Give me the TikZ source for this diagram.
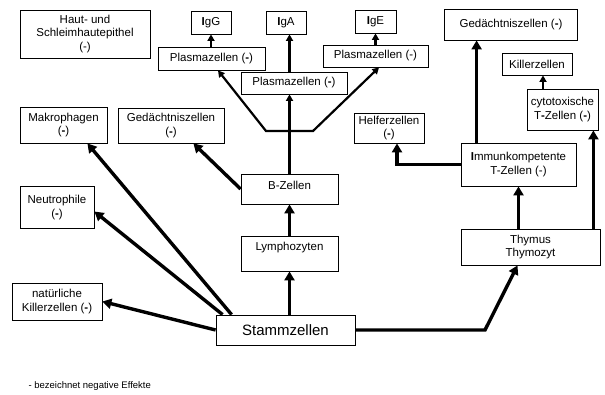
\documentclass[tikz,border=0pt]{standalone}
\usepackage{fontspec}
\setmainfont{Liberation Sans}
\usetikzlibrary{positioning, arrows.meta, calc}

\begin{document}
\begin{tikzpicture}[x=1pt, y=-1pt,
    box/.style={draw, fill=white, line width=0.8pt, align=center, inner sep=2pt, font=\fontsize{11.5}{13.5}\selectfont},
    fat/.style={line width=3.4pt, -{Triangle[length=9pt,width=10pt]}},
    slim/.style={line width=2.2pt, -{Triangle[length=6.5pt,width=7pt]}}]
    \useasboundingbox (0,0) rectangle (605,394);

    % Kasten
    \node[box, minimum width=130pt, minimum height=48pt] (haut) at (85,34) {Haut- und\\Schleimhautepithel\\(-)};
    \node[box, minimum width=40pt, minimum height=23pt] (igg) at (211,22.5) {\textbf{I}gG};
    \node[box, minimum width=40pt, minimum height=23pt] (iga) at (286,22.5) {\textbf{I}gA};
    \node[box, minimum width=41pt, minimum height=23pt] (ige) at (375.5,21.5) {\textbf{I}gE};
    \node[box, minimum width=107pt, minimum height=23pt] (plasmaL) at (211.5,58.5) {Plasmazellen (\textbf{-})};
    \node[box, minimum width=106pt, minimum height=22pt] (plasmaM) at (294,83) {Plasmazellen (\textbf{-})};
    \node[box, minimum width=105pt, minimum height=22pt] (plasmaR) at (375.5,56) {Plasmazellen (-)};
    \node[box, minimum width=133pt, minimum height=31pt] (gedR) at (511,24.5) {Gedächtniszellen (\textbf{-})};
    \node[box, minimum width=70pt, minimum height=22pt] (killer) at (537,64) {Killerzellen};
    \node[box, minimum width=71pt, minimum height=41pt] (cyto) at (562.5,109.5) {cytotoxische\\T\textbf{-}Zellen (\textbf{-})};
    \node[box, minimum width=70pt, minimum height=30pt] (helfer) at (389,128) {Helferzellen\\(\textbf{-})};
    \node[box, minimum width=115pt, minimum height=43pt] (immun) at (518.5,164.5) {\textbf{I}mmunkompetente\\T-Zellen (-)};
    \node[box, minimum width=139pt, minimum height=36pt] (thymus) at (530.5,247) {Thymus\\Thymozyt};
    \node[box, minimum width=87pt, minimum height=36pt] (makro) at (63.5,125) {Makrophagen\\(\textbf{-})};
    \node[box, minimum width=106pt, minimum height=35pt] (gedL) at (171,125.5) {Gedächtniszellen\\(\textbf{-})};
    \node[box, minimum width=74pt, minimum height=42pt] (neutro) at (57,207.5) {Neutrophile\\(\textbf{-})};
    \node[box, minimum width=97pt, minimum height=30pt, text depth=8pt] (bzellen) at (289.5,189) {B-Zellen};
    \node[box, minimum width=97pt, minimum height=35pt, text depth=15pt] (lympho) at (289.5,253.5) {Lymphozyten};
    \node[box, minimum width=90pt, minimum height=37pt] (nkiller) at (57,301.5) {natürliche\\Killerzellen (\textbf{-})};
    \node[box, minimum width=139pt, minimum height=30pt, font=\fontsize{15}{17}\selectfont] (stamm) at (285.5,330) {Stammzellen};
    \node[anchor=west, font=\fontsize{9.5}{11}\selectfont] (legende) at (25,386) {- bezeichnet negative Effekte};

    % Pfeile von den Stammzellen
    \draw[fat] (stamm.west) -- (nkiller.east);
    \draw[fat] ([xshift=7pt]stamm.north west) -- ([yshift=-4pt]neutro.east);
    \draw[fat] ([xshift=16pt]stamm.north west) -- ([xshift=-20pt]makro.south east);
    \draw[fat] (lympho.south |- stamm.north) -- (lympho.south);
    \draw[fat] (lympho.north) -- (bzellen.south);

    % B-Zell-Zweig
    \draw[fat] (bzellen.west) -- ([xshift=-31pt]gedL.south east);
    \draw[slim] (bzellen.north) -- (bzellen.north |- plasmaM.south);
    \coordinate (gabelL) at (266,131);
    \coordinate (gabelR) at (313,131);
    \draw[slim, {Triangle[length=6.5pt,width=7pt]}-{Triangle[length=6.5pt,width=7pt]}] ([xshift=6.5pt]plasmaL.south) -- (gabelL) -- (gabelR) -- ([xshift=3.5pt]plasmaR.south);
    \draw[slim] (igg.south |- plasmaL.north) -- (igg.south);
    \draw[slim] (plasmaM.north -| bzellen.north) -- (iga.south -| bzellen.north);
    \draw[slim] (ige.south |- plasmaR.north) -- (ige.south);

    % T-Zell-Zweig
    \coordinate (knick) at (485,330);
    \draw[fat] (stamm.east) -- (knick) -- ([xshift=-13pt]thymus.south);
    \draw[fat] (immun.south |- thymus.north) -- (immun.south);
    \coordinate (tz) at ([xshift=-7pt]thymus.north east);
    \draw[fat] (tz) -- (tz |- cyto.south);
    \draw[fat] (immun.west) -| ([xshift=8pt]helfer.south);
    \coordinate (iz) at ([xshift=16pt]immun.north west);
    \draw[fat] (iz) -- (iz |- gedR.south);
    \coordinate (kz) at ([xshift=6pt]killer.south);
    \draw[slim] (kz |- cyto.north) -- (kz);
\end{tikzpicture}
\end{document}
